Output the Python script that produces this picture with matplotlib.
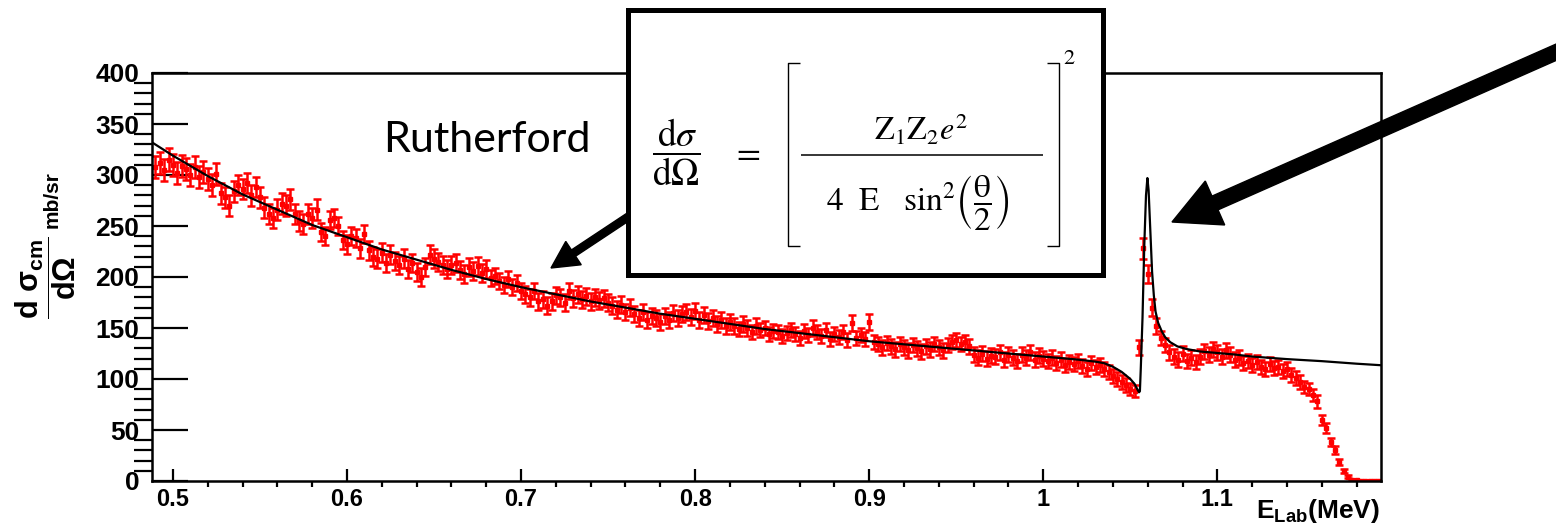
import numpy as np
import matplotlib
matplotlib.use("Agg")
import matplotlib.pyplot as plt
import matplotlib.patches as mpatches
from matplotlib.lines import Line2D
from matplotlib.ticker import MultipleLocator

# measured cross section, bins of 2.5 keV starting at 0.490 MeV
e_start = 0.490
e_step = 0.0025
xsec = [
    308, 312, 305, 315, 310, 302, 309,
    306, 300, 308, 298,
    303, 296, 290, 301,
    282, 278, 270, 284,
    290, 286, 292, 280, 288, 278,
    268, 262, 258, 266, 272, 270,
    276, 262, 255, 252, 262, 258,
    266, 244, 240, 256, 258, 250,
    236, 232, 240, 238, 228, 242,
    226, 220, 218, 224, 214, 222,
    216, 212, 218, 208, 214, 205,
    200, 210, 222, 218, 215, 212,
    208, 212, 214, 207, 203, 210,
    206, 211, 204, 208, 199, 201,
    196, 192, 198, 190, 194, 186,
    183, 180, 186, 176, 178, 172,
    176, 182, 180, 175, 186, 179,
    183, 178, 181, 176, 180, 177,
    179, 175, 172, 168, 173, 166,
    170, 164, 160, 166, 158, 162,
    160, 156, 162, 158, 165, 160,
    164, 166, 161, 167, 158, 163,
    157, 160, 154, 158, 152, 156,
    152, 149, 154, 150, 146, 152,
    148, 150, 144, 147, 146, 142,
    145, 148, 144, 140, 147, 143,
    150, 146, 142, 148, 139, 144,
    141, 146, 138, 155, 140, 143,
    139, 156, 136, 134, 131, 135,
    132, 129, 134, 131, 128, 133,
    130, 127, 132, 129, 134, 131,
    128, 133, 136, 138, 134, 136,
    132, 124, 121, 125, 120, 123,
    122, 126, 119, 124, 121, 118,
    124, 121, 126, 119, 123, 120,
    118, 121, 116, 119, 114, 117,
    115, 118, 113, 110, 116, 112,
    114, 110, 107, 103, 100, 97,
    94, 90, 88,
    131, 228, 203, 170, 152, 140, 133, 126,
    122, 119, 125, 118, 121, 117,
    122, 127, 124, 129, 126, 122,
    128, 124, 119, 121, 116, 118,
    114, 117, 112, 110, 115, 111,
    112, 108, 110, 104, 101, 97, 92, 90, 84, 78, 60, 52, 38, 30, 19, 10, 4, 1,
    0.5, 0.3, 0.2, 0.2, 0.2, 0.2,
]
xsec_err = [
    11, 11, 11, 11, 11, 11, 11,
    11, 11, 11, 11,
    11, 11, 11, 11,
    10, 10, 10, 10,
    10, 10, 10, 10, 10, 10,
    10, 10, 10, 10, 10, 10,
    10, 10, 10, 10, 10, 10,
    10, 9, 9, 9, 9, 9,
    9, 9, 9, 9, 9, 9,
    9, 9, 9, 9, 9, 9,
    9, 9, 9, 9, 9, 9,
    9, 9, 9, 9, 9, 9,
    9, 9, 9, 9, 9, 9,
    9, 9, 9, 9, 8, 8,
    8, 8, 8, 8, 8, 8,
    8, 8, 8, 8, 8, 8,
    8, 8, 8, 8, 8, 8,
    8, 8, 8, 8, 8, 8,
    8, 8, 8, 8, 8, 8,
    8, 8, 8, 8, 8, 8,
    8, 8, 8, 8, 8, 8,
    8, 8, 8, 8, 8, 8,
    8, 8, 8, 8, 8, 8,
    8, 7, 8, 8, 7, 8,
    7, 7, 7, 7, 7, 7,
    7, 7, 7, 7, 7, 7,
    8, 7, 7, 7, 7, 7,
    7, 7, 7, 8, 7, 7,
    7, 8, 7, 7, 7, 7,
    7, 7, 7, 7, 7, 7,
    7, 7, 7, 7, 7, 7,
    7, 7, 7, 7, 7, 7,
    7, 7, 7, 7, 7, 7,
    7, 7, 7, 7, 7, 7,
    7, 7, 7, 7, 7, 7,
    7, 7, 7, 7, 7, 7,
    7, 7, 7, 7, 7, 7,
    7, 7, 7, 7, 7, 7,
    7, 6, 6,
    7, 10, 9, 8, 8, 7, 7, 7,
    7, 7, 7, 7, 7, 7,
    7, 7, 7, 7, 7, 7,
    7, 7, 7, 7, 7, 7,
    7, 7, 7, 7, 7, 7,
    7, 7, 7, 7, 7, 7, 6, 6, 6, 6, 5, 5, 4, 4, 3, 2, 1.5, 1,
    0.3, 0.3, 0.3, 0.3, 0.3, 0.3,
]

# fit curve (Rutherford + resonance)
fit_e = [0.488, 0.50, 0.52, 0.54, 0.56, 0.58, 0.60, 0.62, 0.64, 0.66, 0.68,
         0.70, 0.72, 0.74, 0.76, 0.78, 0.80, 0.82, 0.84, 0.86, 0.88, 0.90,
         0.92, 0.94, 0.96, 0.98, 1.00, 1.02, 1.03, 1.035, 1.04, 1.045, 1.05,
         1.0525, 1.054, 1.055, 1.0555, 1.056, 1.057, 1.058, 1.059, 1.0598,
         1.0605, 1.0615, 1.0625, 1.0635, 1.0645, 1.066, 1.068, 1.070, 1.073,
         1.077, 1.082, 1.09, 1.10, 1.11, 1.12, 1.14, 1.16, 1.18, 1.194]
fit_y = [332, 319, 299, 281, 266, 251, 239, 227, 217, 207, 198,
         190, 183, 176, 170, 164, 159, 154, 149, 145, 141, 137,
         134, 131, 128, 125, 122, 119, 117, 115.5, 112, 107, 100,
         95, 90, 87, 88, 110, 160, 230, 280, 297,
         285, 245, 205, 182, 166, 155, 147, 141, 136,
         132, 129.5, 127, 125.5, 124, 122, 119.5, 117.5, 115, 113.5]

x_ticks = [0.5, 0.6, 0.7, 0.8, 0.9, 1.0, 1.1]
x_ticklabels = ["0.5", "0.6", "0.7", "0.8", "0.9", "1", "1.1"]
y_ticks = [0, 50, 100, 150, 200, 250, 300, 350, 400]

plt.rcParams["font.family"] = ["Liberation Sans", "DejaVu Sans"]
plt.rcParams["mathtext.fontset"] = "custom"
plt.rcParams["mathtext.rm"] = "Liberation Sans:bold"
plt.rcParams["mathtext.bf"] = "Liberation Sans:bold"
plt.rcParams["mathtext.it"] = "Liberation Sans:bold"

W, H = 1556, 528
fig = plt.figure(figsize=(W / 100, H / 100), dpi=100)
ax = fig.add_axes([152 / W, 1 - 481 / H, (1381 - 152) / W, (481 - 73) / H])

energy = e_start + e_step * np.arange(len(xsec))
ax.errorbar(energy, xsec, yerr=xsec_err, fmt="s", ms=2.5, color="#ff0000",
            ecolor="#ff0000", elinewidth=1.8, capsize=3, capthick=1.8, zorder=2)
ax.plot(fit_e, fit_y, color="black", lw=1.6, zorder=3)

ax.set_xlim(0.488, 1.194)
ax.set_ylim(0, 400)
ax.set_xticks(x_ticks)
ax.set_xticklabels(x_ticklabels)
ax.set_yticks(y_ticks)
ax.xaxis.set_minor_locator(MultipleLocator(0.02))
ax.yaxis.set_minor_locator(MultipleLocator(10))
ax.tick_params(axis="both", direction="in", width=1.6)
ax.tick_params(axis="x", which="major", length=9, pad=5, labelsize=17)
ax.tick_params(axis="x", which="minor", length=4.5, width=1.6)
ax.tick_params(axis="y", which="major", length=26, pad=9, labelsize=19)
ax.tick_params(axis="y", which="minor", length=13, width=1.6)
for lab in ax.get_xticklabels() + ax.get_yticklabels():
    lab.set_fontweight("bold")
for s in ax.spines.values():
    s.set_linewidth(1.8)

fig.text(1380 / W, 1 - 511 / H, r"$\mathbf{E_{Lab}}$(MeV)", ha="right",
         va="center", fontsize=19, fontweight="bold")
fig.text(46 / W, 1 - 278 / H, r"$\mathbf{\dfrac{d\ \sigma_{cm}}{d\Omega}}$",
         rotation=90, ha="center", va="center", fontsize=22)
fig.text(52 / W, 1 - 200 / H, "mb/sr", rotation=90, ha="center",
         va="center", fontsize=15, fontweight="bold")

fig.text(383 / W, 1 - 152 / H, "Rutherford", fontsize=31,
         family=["Lato", "DejaVu Sans"], ha="left", va="baseline")

# everything below is placed in inches from the bottom left corner
def px(x, y):
    return x / 100, (H - y) / 100

x0, y0 = px(634, 213)
x1, y1 = px(551, 268)
fig.add_artist(mpatches.FancyArrow(x0, y0, x1 - x0, y1 - y0, width=0.075,
                                   head_width=0.28, head_length=0.27,
                                   length_includes_head=True, color="black",
                                   transform=fig.dpi_scale_trans, zorder=5))
x0, y0 = px(1620, 24)
x1, y1 = px(1172, 222)
fig.add_artist(mpatches.FancyArrow(x0, y0, x1 - x0, y1 - y0, width=0.15,
                                   head_width=0.48, head_length=0.47,
                                   length_includes_head=True, color="black",
                                   transform=fig.dpi_scale_trans, zorder=5))

bx, by = px(628, 275)
fig.add_artist(mpatches.Rectangle((bx, by), 4.75, 2.65, facecolor="white",
                                  edgecolor="black", lw=3.6,
                                  transform=fig.dpi_scale_trans, zorder=6))

def seg(xs, ys, lw=1.0):
    pts = [px(a, b) for a, b in zip(xs, ys)]
    fig.add_artist(Line2D([p[0] for p in pts], [p[1] for p in pts], lw=lw,
                          color="black", transform=fig.dpi_scale_trans,
                          zorder=7, solid_capstyle="butt"))

seg([800, 788, 788, 800], [63, 63, 246, 246])
seg([1047, 1059, 1059, 1047], [63, 63, 246, 246])
seg([801, 1043], [155, 155], lw=1.1)

fs = 23
kw = dict(ha="center", va="center", math_fontfamily="stix", zorder=7)
fig.text(676 / W, 1 - 152 / H,
         r"$\dfrac{\mathrm{d}\sigma}{\mathrm{d}\Omega}$", fontsize=27, **kw)
fig.text(746 / W, 1 - 153 / H, r"$=$", fontsize=25, **kw)
fig.text(921 / W, 1 - 130 / H, r"$\mathrm{Z_1 Z_2}e^2$", fontsize=fs, **kw)
fig.text(918 / W, 1 - 203 / H,
         r"$4\ \ \mathrm{E}\ \ \ \sin^2\!\left(\dfrac{\mathrm{\theta}}{2}\right)$",
         fontsize=fs + 1, **kw)
fig.text(1070 / W, 1 - 66 / H, r"$^2$", fontsize=fs, **kw)

fig.savefig("out.png", dpi=100)
